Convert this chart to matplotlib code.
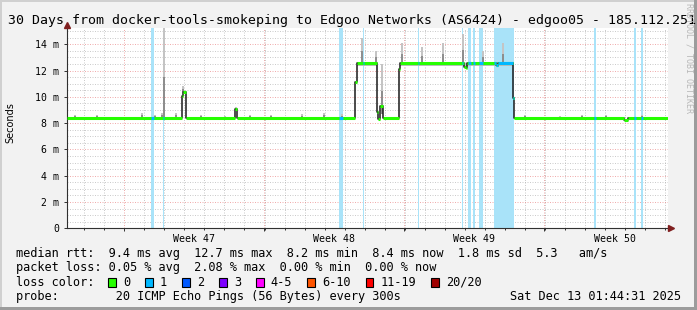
import numpy as np
import matplotlib.pyplot as plt
from matplotlib.patches import Rectangle
from matplotlib.transforms import offset_copy
from matplotlib.ticker import MultipleLocator, FixedLocator, FuncFormatter

# ---- values (x = days since graph start, y = ms) ----
median_t = [0.00, 5.74, 5.79, 5.92, 8.41, 8.49, 14.38, 14.48, 15.49, 15.54,
            15.63, 15.76, 16.56, 16.62, 19.82, 19.92, 19.97, 21.42, 21.52,
            22.25, 22.30, 27.81, 28.01]
median_v = [8.4, 10.1, 10.4, 8.4, 9.05, 8.4, 11.1, 12.6, 8.85, 8.3,
            9.3, 8.4, 12.1, 12.6, 12.3, 12.2, 12.6, 12.4, 12.6,
            9.9, 8.4, 8.25, 8.4]

loss_start = [4.19, 4.79, 13.58, 14.78, 17.50, 19.70, 20.00, 20.27, 20.57,
              21.32, 26.33, 28.31, 28.64]
loss_end = [4.32, 4.85, 13.79, 14.85, 17.57, 19.78, 20.15, 20.39, 20.77,
            22.29, 26.40, 28.41, 28.74]
loss_level = [1, 1, 1, 1, 1, 1, 1, 1, 1, 1, 1, 1, 1]

smoke_t = [0.40, 1.50, 3.72, 4.37, 4.74, 4.82, 5.44, 5.79, 6.69, 7.89, 8.44,
           9.14, 10.18, 11.71, 12.83, 13.73, 14.73, 15.42, 15.73, 16.71,
           17.71, 18.76, 19.76, 20.78, 21.75, 22.85, 24.60, 25.70, 26.90,
           28.70]
smoke_lo = [8.45, 8.45, 8.45, 8.45, 8.45, 8.45, 8.45, 10.4, 8.45, 8.45, 9.05,
            8.45, 8.45, 8.45, 8.45, 8.45, 12.6, 12.6, 8.7, 12.6,
            12.6, 12.6, 12.6, 12.6, 12.6, 8.45, 8.45, 8.45, 8.45,
            8.45]
smoke_hi = [8.65, 8.6, 8.8, 8.6, 8.8, 15.3, 8.8, 10.8, 8.6, 8.55, 9.2,
            8.6, 8.6, 8.7, 8.8, 8.7, 14.5, 13.5, 12.5, 14.1,
            13.8, 14.1, 14.8, 13.5, 14.1, 8.6, 8.55, 8.6, 8.6,
            8.6]

band_start = [14.48, 16.62]
band_end = [15.49, 22.25]
band_lo = [12.35, 12.35]
band_hi = [12.6, 12.6]

week_start = [2.86, 9.85, 16.84, 23.83]
week_labels = ["Week 47", "Week 48", "Week 49", "Week 50"]

loss_labels = ["0", "1", "2", "3", "4-5", "6-10", "11-19", "20/20"]
loss_colors = ["#26ff00", "#00b8ff", "#0059ff", "#7e00ff", "#ff00ff",
               "#ff5500", "#ff0000", "#a00000"]

title = ("30 Days from docker-tools-smokeping to Edgoo Networks (AS6424)"
         " - edgoo05 - 185.112.251")
rtt_line = ("median rtt:  9.4 ms avg  12.7 ms max  8.2 ms min  8.4 ms now"
            "  1.8 ms sd  5.3   am/s")
loss_line = "packet loss: 0.05 % avg  2.08 % max  0.00 % min  0.00 % now"
probe_line = "probe:        20 ICMP Echo Pings (56 Bytes) every 300s"
stamp = "Sat Dec 13 01:44:31 2025"

x_end = 30.0
y_top = 15.28

# ---- figure ----
W, H = 697, 310
MONO = "DejaVu Sans Mono"
fig = plt.figure(figsize=(W / 100, H / 100), dpi=100, facecolor="#f2f2f2")


def fx(x):
    return x / W


def fy(y):
    return 1 - y / H


ax = fig.add_axes([fx(67), fy(228.3), (668 - 67) / W, (228.3 - 27.5) / H])
ax.set_facecolor("white")
ax.set_xlim(0, x_end)
ax.set_ylim(0, y_top)

# grid
ax.set_axisbelow(True)
ax.xaxis.set_major_locator(FixedLocator(week_start))
ax.xaxis.set_minor_locator(FixedLocator(np.arange(week_start[0] - 2, x_end, 1.0)))
ax.yaxis.set_major_locator(MultipleLocator(2))
ax.yaxis.set_minor_locator(MultipleLocator(0.5))
ax.grid(which="major", color="#e46a6a", linestyle=(0, (1, 1.5)), lw=0.72, alpha=0.55)
ax.grid(which="minor", color="#9a9a9a", linestyle=(0, (1, 1.5)), lw=0.72, alpha=0.5)
ax.yaxis.set_major_formatter(FuncFormatter(lambda v, p: "0" if v == 0 else f"{v:g} m"))
ax.xaxis.set_major_formatter(FuncFormatter(lambda v, p: ""))

for s in ["top", "right"]:
    ax.spines[s].set_visible(False)
for s in ["left", "bottom"]:
    ax.spines[s].set_color("#303030")
    ax.spines[s].set_linewidth(0.8)

ax.tick_params(axis="y", which="major", length=2, width=0.7, color="#303030",
               pad=3.6, labelsize=7.1)
ax.tick_params(axis="y", which="minor", length=0)
ax.tick_params(axis="x", which="major", length=2.5, width=0.7, color="#303030")
ax.tick_params(axis="x", which="minor", length=1.2, width=0.7, color="#303030")
for lab in ax.get_yticklabels():
    lab.set_family(MONO)

sec = ax.secondary_xaxis("bottom")
sec.set_xticks([w + 3.5 for w in week_start], labels=week_labels)
sec.tick_params(length=0, pad=3.9, labelsize=7.1)
sec.spines["bottom"].set_visible(False)
for lab in sec.get_xticklabels():
    lab.set_family(MONO)

# axis arrows
arrow_col = "#801f1f"
ax.plot([0], [1], marker="^", ms=4, color=arrow_col, clip_on=False, zorder=6,
        transform=offset_copy(ax.transAxes, fig=fig, x=0, y=2.7, units="dots"))
ax.plot([1], [0], marker=">", ms=4, color=arrow_col, clip_on=False, zorder=6,
        transform=offset_copy(ax.transAxes, fig=fig, x=2.5, y=0, units="dots"))

# loss background bars
for s, e in zip(loss_start, loss_end):
    ax.axvspan(s, e, color="#a9e3f9", lw=0, zorder=1)

# smoke
for s, e, lo, hi in zip(band_start, band_end, band_lo, band_hi):
    ax.fill_between([s, e], lo, hi, color="#bdbdbd", lw=0, zorder=2)
lo = np.array(smoke_lo)
hi = np.array(smoke_hi)
ax.bar(smoke_t, hi - lo, bottom=lo, width=0.1, color="#c4c4c4", lw=0, zorder=2)
ax.bar(smoke_t, (hi - lo) * 0.45, bottom=lo, width=0.1, color="#8e8e8e", lw=0, zorder=2)

# median line, coloured by loss
seg_start = np.array(median_t)
seg_end = np.append(seg_start[1:], x_end)
seg_v = np.array(median_v)
ax.step(np.append(seg_start, x_end), np.append(seg_v, seg_v[-1]), where="post",
        color="#1a1a1a", lw=1.1, zorder=3)
ax.hlines(seg_v, seg_start, seg_end, colors=loss_colors[0], lw=2.2, zorder=4)
for s, e, n in zip(loss_start, loss_end, loss_level):
    a = np.maximum(seg_start, s)
    b = np.minimum(seg_end, e)
    m = b > a
    ax.hlines(seg_v[m], a[m], b[m], colors=loss_colors[n], lw=2.2, zorder=5)

# ---- texts around the graph ----
fig.text(fx(7.6), fy(24), title, ha="left", va="baseline", fontsize=9.55, family=MONO)
fig.text(fx(10), fy(122.5), "Seconds", rotation=90, ha="center", va="center",
         fontsize=7)
fig.text(fx(689), fy(3), "RRDTOOL / TOBI OETIKER", rotation=270, ha="center",
         va="top", fontsize=6, family=MONO, color="#b8b8b8")

LEG = 8.55
fig.text(fx(15.5), fy(257.3), rtt_line, va="baseline", fontsize=LEG, family=MONO)
fig.text(fx(15.5), fy(271.5), loss_line, va="baseline", fontsize=LEG, family=MONO)
fig.text(fx(15.5), fy(285.7), "loss color:", va="baseline", fontsize=LEG, family=MONO)
fig.text(fx(15.5), fy(299.9), probe_line, va="baseline", fontsize=LEG, family=MONO)
fig.text(fx(680.5), fy(299.9), stamp, ha="right", va="baseline", fontsize=LEG, family=MONO)

bx = 108.0
for lab, col in zip(loss_labels, loss_colors):
    fig.add_artist(Rectangle((fx(bx), fy(286.5)), 7.5 / W, 8.5 / H,
                             transform=fig.transFigure, facecolor=col,
                             edgecolor="black", lw=0.8))
    fig.text(fx(bx + 14.8), fy(285.7), lab, va="baseline", fontsize=LEG, family=MONO)
    bx += 29.9 + 7.13 * len(lab)

# frame shading
fig.add_artist(Rectangle((0, 0), fx(2), 1, transform=fig.transFigure,
                         facecolor="#d0d0d0", lw=0))
fig.add_artist(Rectangle((0, fy(2)), 1, 2 / H, transform=fig.transFigure,
                         facecolor="#d0d0d0", lw=0))
fig.add_artist(Rectangle((fx(694), 0), 3 / W, 1, transform=fig.transFigure,
                         facecolor="#9c9c9c", lw=0))
fig.add_artist(Rectangle((0, 0), 1, 3 / H, transform=fig.transFigure,
                         facecolor="#9c9c9c", lw=0))

fig.savefig("out.png", dpi=100, facecolor=fig.get_facecolor())
